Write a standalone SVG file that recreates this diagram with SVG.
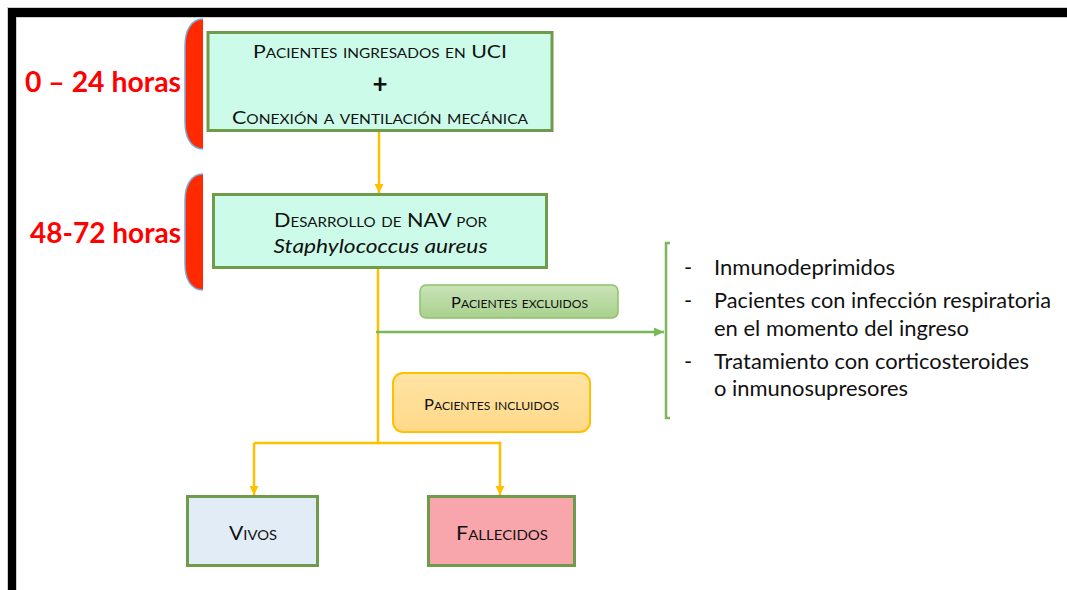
<svg xmlns="http://www.w3.org/2000/svg" width="1067" height="590" viewBox="0 0 1067 590">
<defs>
<style>
.t{font-family:Lato,"Liberation Sans",sans-serif;fill:#111}
.sc{font-variant:small-caps}
.box{stroke:#6e9c4a;stroke-width:3}
.red{font-family:Lato,"Liberation Sans",sans-serif;font-weight:bold;fill:#ff0000;font-size:29px}
.yl{stroke:#ffc000;stroke-width:2.5;fill:none}
.gl{stroke:#7ab957;stroke-width:2.5;fill:none}
.brk{fill:#ff2a00}
.brkline{fill:none;stroke:#7aa9de;stroke-width:1.5}
</style>
<marker id="ay" markerUnits="userSpaceOnUse" markerWidth="10" markerHeight="10" refX="9" refY="5" orient="auto">
<path d="M0,0.5 L9,5 L0,9.5 Z" fill="#ffc000"/>
</marker>
<marker id="ag" markerUnits="userSpaceOnUse" markerWidth="12" markerHeight="12" refX="10" refY="6" orient="auto">
<path d="M0,1.5 L10,6 L0,10.5 Z" fill="#7ab957"/>
</marker>
<linearGradient id="gex" x1="0" y1="0" x2="0" y2="1">
<stop offset="0" stop-color="#c9e3b8"/>
<stop offset="1" stop-color="#a9d18e"/>
</linearGradient>
<linearGradient id="gin" x1="0" y1="0" x2="0" y2="1">
<stop offset="0" stop-color="#ffe4a3"/>
<stop offset="1" stop-color="#ffd98a"/>
</linearGradient>
</defs>
<rect width="1067" height="590" fill="#fff"/>
<g id="frame">
<rect x="7.5" y="7.5" width="1060" height="10" fill="#000" stroke="#cfcfcf" stroke-width="1"/>
<rect x="7.5" y="7.5" width="9" height="583" fill="#000" stroke="#cfcfcf" stroke-width="1"/>
<rect x="8" y="8" width="1059" height="9" fill="#000"/>
<rect x="8" y="8" width="8" height="582" fill="#000"/>
</g>
<g id="time1">
<path class="brk" d="M203,19 C191,19 185,31 185,46 L185,122 C185,137 191,149 203,149 Z"/>
<path class="brkline" d="M203,19 C191,19 185,31 185,46 L185,122 C185,137 191,149 203,149"/>
<text class="red" x="25" y="92" textLength="156" lengthAdjust="spacingAndGlyphs">0 – 24 horas</text>
</g>
<g id="time2">
<path class="brk" d="M203,174 C191,174 185,186 185,200 L185,264 C185,279 191,290 203,290 Z"/>
<path class="brkline" d="M203,174 C191,174 185,186 185,200 L185,264 C185,279 191,290 203,290"/>
<text class="red" x="30" y="243" textLength="151" lengthAdjust="spacingAndGlyphs">48-72 horas</text>
</g>
<g id="connectors">
<line class="yl" x1="379" y1="131" x2="379" y2="193" marker-end="url(#ay)"/>
<polyline class="yl" points="378,268 378,443"/>
<polyline class="yl" points="254,443 500,443 500,495" marker-end="url(#ay)"/>
<line class="yl" x1="254" y1="443" x2="254" y2="495" marker-end="url(#ay)"/>
<line class="gl" x1="376" y1="332" x2="664" y2="332" marker-end="url(#ag)"/>
<path class="gl" d="M670,243 L666,243 L666,418 L670,418"/>
</g>
<g id="n1">
<rect class="box" x="208" y="32.5" width="344" height="98" fill="#ccfce9"/>
<text class="t sc" x="380" y="58" font-size="18" text-anchor="middle" textLength="254" lengthAdjust="spacingAndGlyphs">Pacientes ingresados en UCI</text>
<text class="t" x="380" y="93" font-size="26" font-weight="bold" text-anchor="middle">+</text>
<text class="t sc" x="380" y="124" font-size="18" text-anchor="middle" textLength="296" lengthAdjust="spacingAndGlyphs">Conexión a ventilación mecánica</text>
</g>
<g id="n2">
<rect class="box" x="213.5" y="194.5" width="333" height="73" fill="#ccfce9"/>
<text class="t sc" x="380.5" y="227" font-size="20" text-anchor="middle" textLength="213" lengthAdjust="spacingAndGlyphs">Desarrollo de NAV por</text>
<text class="t" x="380.5" y="253" font-size="20" font-style="italic" text-anchor="middle" textLength="214" lengthAdjust="spacingAndGlyphs">Staphylococcus aureus</text>
</g>
<g id="excluidos">
<rect x="420" y="285" width="198" height="33" rx="6" fill="url(#gex)" stroke="#8dc26c" stroke-width="1.5"/>
<text class="t sc" x="519.5" y="308" font-size="15" text-anchor="middle" textLength="137" lengthAdjust="spacingAndGlyphs">Pacientes excluidos</text>
</g>
<g id="incluidos">
<rect x="393" y="373" width="197" height="59" rx="10" fill="url(#gin)" stroke="#ffc000" stroke-width="2"/>
<text class="t sc" x="491.5" y="410" font-size="15" text-anchor="middle" textLength="135" lengthAdjust="spacingAndGlyphs">Pacientes incluidos</text>
</g>
<g id="criterios">
<text class="t" font-size="22" x="684" y="275">-</text>
<text class="t" font-size="22" x="714" y="275" textLength="181" lengthAdjust="spacingAndGlyphs">Inmunodeprimidos</text>
<text class="t" font-size="22" x="684" y="308">-</text>
<text class="t" font-size="22" x="714" y="308" textLength="337" lengthAdjust="spacingAndGlyphs">Pacientes con infección respiratoria</text>
<text class="t" font-size="22" x="714" y="336" textLength="255" lengthAdjust="spacingAndGlyphs">en el momento del ingreso</text>
<text class="t" font-size="22" x="684" y="369">-</text>
<text class="t" font-size="22" x="714" y="369" textLength="315" lengthAdjust="spacingAndGlyphs">Tratamiento con corticosteroides</text>
<text class="t" font-size="22" x="714" y="396" textLength="194" lengthAdjust="spacingAndGlyphs">o inmunosupresores</text>
</g>
<g id="vivos">
<rect class="box" x="187.5" y="496.5" width="130" height="69" fill="#e2ecf7"/>
<text class="t sc" x="253" y="540" font-size="20" text-anchor="middle" textLength="48" lengthAdjust="spacingAndGlyphs">Vivos</text>
</g>
<g id="fallecidos">
<rect class="box" x="428.5" y="496.5" width="146" height="69" fill="#f8a5ab"/>
<text class="t sc" x="502" y="540" font-size="20" text-anchor="middle" textLength="92" lengthAdjust="spacingAndGlyphs">Fallecidos</text>
</g>
</svg>
